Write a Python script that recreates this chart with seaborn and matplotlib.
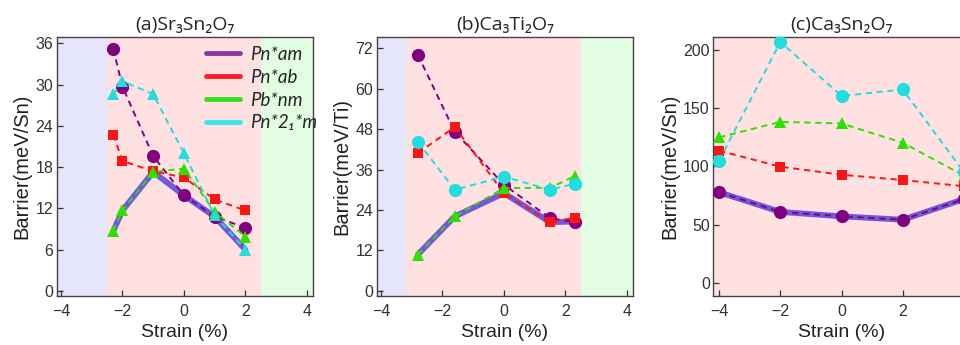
import numpy as np
import pandas as pd
import matplotlib
matplotlib.use("Agg")
import matplotlib.pyplot as plt
import seaborn as sns
from matplotlib.lines import Line2D

sns.set_style("ticks")
plt.rcParams['font.family'] = ['Liberation Sans', 'DejaVu Sans']

# ---------------- data ----------------
series_names = ["Pn*am", "Pn*ab", "Pb*nm", "Pn*2\u2081*m"]

# (a) Sr3Sn2O7
a_strain = [-2.3, -2.0, -1.0, 0.0, 1.0, 2.0]
a_pnam = [35.2, 29.7, 19.6, 13.9, 10.8, 9.2]
a_pnab = [22.7, 18.9, 17.4, 16.5, 13.3, 11.7]
a_pbnm = [8.7, 11.7, 17.3, 17.8, 11.5, 7.9]
a_pn21m = [28.6, 30.5, 28.6, 20.0, 11.0, 6.0]
a_ground = [8.7, 11.7, 17.3, 13.9, 10.8, 6.0]

# (b) Ca3Ti2O7
b_strain = [-2.8, -1.6, 0.0, 1.5, 2.3]
b_pnam = [70.0, 47.2, 31.5, 21.6, 20.4]
b_pnab = [40.9, 48.6, 29.0, 20.4, 21.7]
b_pbnm = [10.8, 22.1, 30.5, 30.6, 34.0]
b_pn21m = [44.2, 30.0, 33.9, 30.0, 31.8]
b_ground = [10.8, 22.1, 29.0, 20.4, 20.6]

# (c) Ca3Sn2O7
c_strain = [-4.0, -2.0, 0.0, 2.0, 4.0]
c_pnam = [77.8, 61.0, 57.2, 54.3, 72.0]
c_pnab = [113.4, 99.7, 92.8, 88.3, 83.0]
c_pbnm = [124.8, 138.1, 136.7, 120.2, 92.0]
c_pn21m = [104.8, 206.5, 160.3, 165.8, 95.0]
c_ground = [77.8, 61.0, 57.2, 54.3, 72.0]

titles = ["(a)Sr\u2083Sn\u2082O\u2087", "(b)Ca\u2083Ti\u2082O\u2087", "(c)Ca\u2083Sn\u2082O\u2087"]
ylabels = ["Barrier(meV/Sn)", "Barrier(meV/Ti)", "Barrier(meV/Sn)"]
a_yticks = [0, 6, 12, 18, 24, 30, 36]
b_yticks = [0, 12, 24, 36, 48, 60, 72]
c_yticks = [0, 50, 100, 150, 200]
xticks = [-4, -2, 0, 2, 4]
xticklabels = ["\u22124", "\u22122", "0", "2", "4"]

# ---------------- style ----------------
colors = ["#800080", "#ff1414", "#2ee000", "#22dde0"]
legend_colors = ["#8a3aa6", "#ff1c2a", "#33e01a", "#3ce6ee"]
ground_color = "#6a52d8"
blue_bg, pink_bg, green_bg = "#e5e5fb", "#ffe1e1", "#e2fde2"

fig = plt.figure(figsize=(9.6, 3.45), dpi=100)
W, H = 960, 345
def add_ax(left_px, right_px, top_px=36.7, bottom_px=296):
    return fig.add_axes([left_px / W, 1 - bottom_px / H,
                         (right_px - left_px) / W, (bottom_px - top_px) / H])

ax_a = add_ax(56.7, 313)
ax_b = add_ax(376.7, 633)
ax_c = add_ax(713.3, 969.5)

panels = [
    (ax_a, a_strain, [a_pnam, a_pnab, a_pbnm, a_pn21m], a_ground,
     ["o", "s", "^", "^"], (-4.14, 4.2), (-0.73, 36.96), a_yticks, (-2.5, 2.5)),
    (ax_b, b_strain, [b_pnam, b_pnab, b_pbnm, b_pn21m], b_ground,
     ["o", "s", "^", "o"], (-4.14, 4.2), (-1.5, 75.4), b_yticks, (-3.2, 2.5)),
    (ax_c, c_strain, [c_pnam, c_pnab, c_pbnm, c_pn21m], c_ground,
     ["o", "s", "^", "o"], (-4.19, 4.18), (-11, 211), c_yticks, None),
]

msizes = {"o": 9.5, "s": 7, "^": 8}
draw_order = [1, 2, 3, 0]

for i, (ax, xs, ys_list, ground, mks, xl, yl, yt, shade) in enumerate(panels):
    if shade is not None:
        ax.axvspan(xl[0], shade[0], color=blue_bg, lw=0, zorder=0)
        ax.axvspan(shade[0], shade[1], color=pink_bg, lw=0, zorder=0)
        ax.axvspan(shade[1], xl[1], color=green_bg, lw=0, zorder=0)
    else:
        ax.axvspan(xl[0], xl[1], color=pink_bg, lw=0, zorder=0)

    gdf = pd.DataFrame({"strain": xs, "barrier": ground})
    sns.lineplot(data=gdf, x="strain", y="barrier", ax=ax, color=ground_color,
                 lw=4.2, sort=False, zorder=2, alpha=0.95)
    for k in draw_order:
        df = pd.DataFrame({"strain": xs, "barrier": ys_list[k]})
        sns.lineplot(data=df, x="strain", y="barrier", ax=ax, color=colors[k],
                     lw=1.4, linestyle=(0, (3.2, 2.4)), marker=mks[k],
                     markersize=msizes[mks[k]], markeredgewidth=0,
                     sort=False, zorder=3 + k * 0.1)

    ax.set_xlim(*xl)
    ax.set_ylim(*yl)
    ax.set_xticks(xticks)
    ax.set_xticklabels(xticklabels)
    ax.set_yticks(yt)
    ax.tick_params(direction="in", length=4, width=0.9, labelsize=11.5,
                   colors="#333333", top=False, right=False)
    ax.tick_params(axis="x", pad=6)
    ax.tick_params(axis="y", pad=2.5)
    for sp in ax.spines.values():
        sp.set_color("#444444")
        sp.set_linewidth(1.0)
        sp.set_visible(True)
    ax.set_xlabel("Strain (%)", fontsize=14, labelpad=3.5, color="#222222")
    ax.set_ylabel(ylabels[i], fontsize=14.5, labelpad=3, color="#222222")
    ax.set_title(titles[i], fontsize=14,
                 family=["Open Sans", "Noto Sans", "DejaVu Sans"], pad=5)
    if ax.get_legend() is not None:
        ax.get_legend().remove()

# legend in panel (a)
handles = [Line2D([0], [0], color=c, lw=3.5) for c in legend_colors]
ax_a.legend(handles, series_names, loc="upper left", bbox_to_anchor=(0.583, 0.964),
            frameon=False, borderpad=0, borderaxespad=0, handlelength=1.8,
            handletextpad=0.53, labelspacing=0.31,
            prop={"family": ["Lato", "DejaVu Sans"], "style": "italic", "size": 13.5})

fig.savefig("out.png", dpi=100)
